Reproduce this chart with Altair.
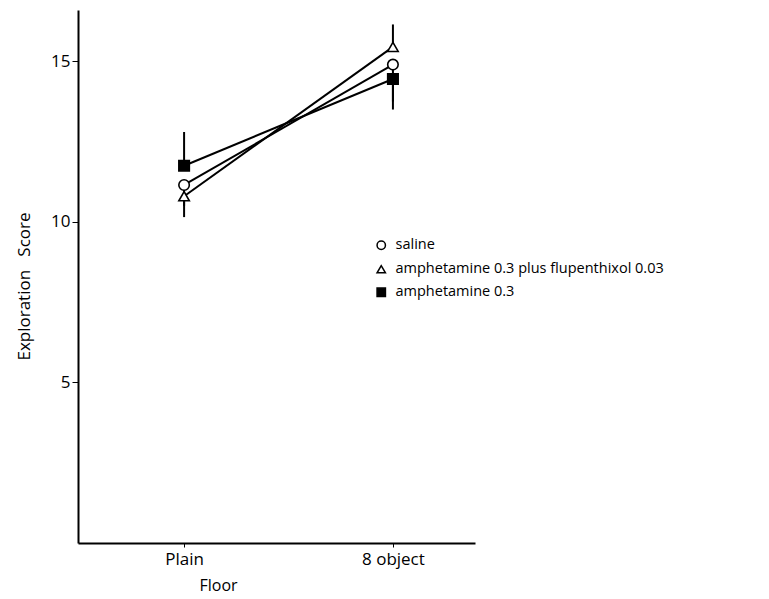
import altair as alt
import pandas as pd

floor_labels = ["Plain", "8 object"]
floor_pos = [0, 1]
groups = ["saline", "amphetamine 0.3 plus flupenthixol 0.03", "amphetamine 0.3"]
saline_mean = [11.15, 14.9]
saline_err = [10.5, 13.75]
ampflu_mean = [10.8, 15.45]
ampflu_err = [10.15, 16.15]
amph_mean = [11.75, 14.45]
amph_err = [12.8, 13.5]
y_ticks = [5, 10, 15]

rows = []
for g, means, errs in zip(groups, [saline_mean, ampflu_mean, amph_mean], [saline_err, ampflu_err, amph_err]):
    for i, f in enumerate(floor_pos):
        rows.append({"group": g, "floor": f, "mean": means[i], "err": errs[i]})
df = pd.DataFrame(rows)

FONT = "Open Sans"
NB = "\u00a0"
label_expr = "datum.value == 0 ? '%s' : datum.value == 1 ? '%s' : ''" % (floor_labels[0], floor_labels[1])

x = alt.X("floor:Q", scale=alt.Scale(domain=[-0.508, 1.393], nice=False, zero=False),
          axis=alt.Axis(values=floor_pos, labelExpr=label_expr, title="Floor", grid=False,
                        domainColor="black", domainWidth=2, tickColor="black", tickSize=4,
                        labelFont=FONT, labelFontSize=17, labelColor="black", labelPadding=4,
                        titleFont=FONT, titleFontSize=16, titleFontWeight="normal", titleColor="black",
                        titleX=140, titleY=34, titleBaseline="top"))
y = alt.Y("mean:Q", scale=alt.Scale(domain=[0, 16.6], nice=False),
          axis=alt.Axis(values=y_ticks, title="Exploration" + NB * 3 + "Score", grid=False,
                        domainColor="black", domainWidth=2, tickColor="black", tickSize=6,
                        labelFont=FONT, labelFontSize=17, labelColor="black", labelPadding=2,
                        titleFont=FONT, titleFontSize=17, titleFontWeight="normal", titleColor="black",
                        titleX=-54, titleY=276, titleAngle=-90, titleAlign="center",
                        titleBaseline="middle"))

base = alt.Chart(df)

lines = base.mark_line(color="black", strokeWidth=2).encode(x=x, y=y, detail="group:N")

errbars = base.transform_calculate(
    off="datum.group == 'saline' ? (datum.floor == 0 ? -4 : 8) : (datum.group == 'amphetamine 0.3 plus flupenthixol 0.03' ? 3 : 0)"
).mark_rule(color="black", strokeWidth=2).encode(
    x=x, y=y, y2="err:Q", xOffset=alt.XOffset("off:Q", scale=None)
)

legend = alt.Legend(title=None, orient="none", legendX=296, legendY=228,
                    labelFont=FONT, labelFontSize=14.5, labelColor="black", labelLimit=600,
                    symbolStrokeWidth=1.5, rowPadding=8, symbolSize=70, labelOffset=7)

points = base.mark_point(strokeWidth=1.6, opacity=1, filled=False).encode(
    x=x, y=y,
    shape=alt.Shape("group:N", scale=alt.Scale(domain=groups, range=["circle", "triangle-up", "square"]),
                    legend=legend),
    fill=alt.Fill("group:N", scale=alt.Scale(domain=groups, range=["white", "white", "black"]), legend=legend),
    stroke=alt.Stroke("group:N", scale=alt.Scale(domain=groups, range=["black", "black", "black"]), legend=legend),
    size=alt.value(110),
)

chart = alt.layer(lines, errbars, points).properties(
    width=397, height=533,
    background="white",
    autosize=alt.AutoSizeParams(type="none"),
    padding={"left": 70, "top": 2, "right": 280, "bottom": 56},
).configure_view(strokeWidth=0, stroke="transparent")

chart.save("out.html", embed_options={"renderer": "svg", "actions": False})
